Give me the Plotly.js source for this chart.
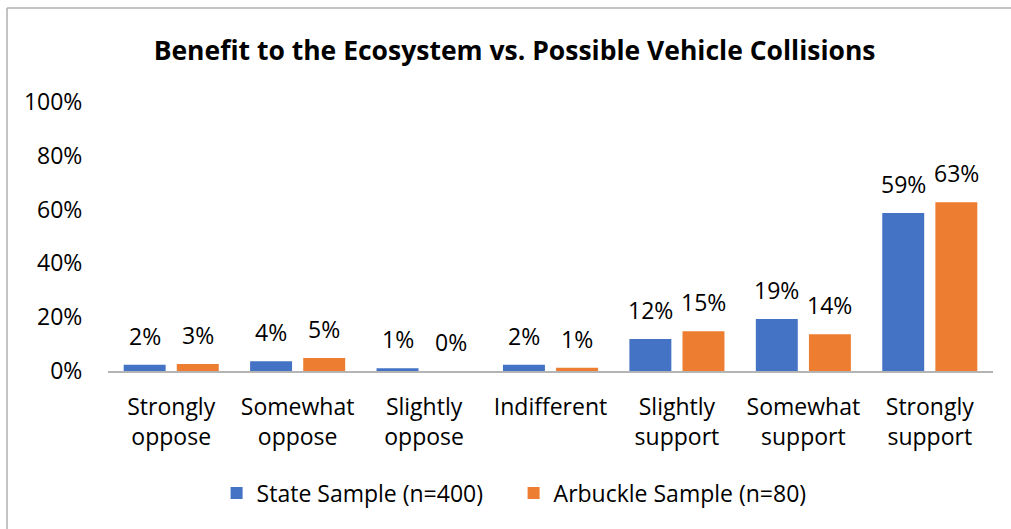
<!DOCTYPE html>
<html>
<head>
<meta charset="utf-8">
<script src="https://cdn.plot.ly/plotly-3.0.1.min.js"></script>
<style>
  html, body { margin: 0; padding: 0; background: #fff; overflow: hidden; }
  #chart { width: 1011px; height: 529px; }
</style>
</head>
<body>
<div id="chart"></div>
<script>
const categories = ["Strongly<br>oppose", "Somewhat<br>oppose", "Slightly<br>oppose", "Indifferent", "Slightly<br>support", "Somewhat<br>support", "Strongly<br>support"];
const stateSample = [0.023, 0.036, 0.010, 0.023, 0.119, 0.193, 0.587];
const arbuckleSample = [0.026, 0.048, 0.0, 0.012, 0.148, 0.137, 0.627];
const seriesNames = ["State Sample (n=400)", "Arbuckle Sample (n=80)"];
const seriesColors = ["#4472C4", "#ED7D31"];
const yTickVals = [0, 0.2, 0.4, 0.6, 0.8, 1.0];

const FONT = "Open Sans, Lato, DejaVu Sans, sans-serif";
const BARGAP = 0.16;

const traces = [stateSample, arbuckleSample].map((vals, k) => ({
  type: "bar",
  x: categories,
  y: vals,
  name: seriesNames[k],
  marker: { color: seriesColors[k] },
  hoverinfo: "skip"
}));

// data labels as annotations placed over each bar
const fmtPct = v => Math.round(v * 100) + "%";
const slotOffset = (1 - BARGAP) / 4;
const annotations = [];
[stateSample, arbuckleSample].forEach((vals, k) => {
  vals.forEach((v, i) => {
    annotations.push({
      xref: "x", yref: "y",
      x: i + (k === 0 ? -slotOffset : slotOffset),
      y: v,
      text: fmtPct(v),
      showarrow: false,
      xanchor: "center", yanchor: "bottom",
      yshift: 11,
      font: { family: FONT, size: 23, color: "#000" }
    });
  });
});

const layout = {
  width: 1011,
  height: 529,
  margin: { l: 108, r: 18, t: 102, b: 158 },
  paper_bgcolor: "#fff",
  plot_bgcolor: "#fff",
  font: { family: FONT, size: 23, color: "#000" },
  title: {
    text: "<b>Benefit to the Ecosystem vs. Possible Vehicle Collisions</b>",
    font: { family: FONT, size: 26.5, color: "#000" },
    xref: "container", x: 0.509, xanchor: "center",
    yref: "container", y: 0.904, yanchor: "middle"
  },
  barmode: "group",
  bargap: BARGAP,
  bargroupgap: 0.21,
  xaxis: {
    showline: true,
    linecolor: "#b4b4b4",
    linewidth: 1.5,
    showgrid: false,
    zeroline: false,
    ticks: "outside",
    ticklen: 15,
    tickcolor: "rgba(0,0,0,0)",
    tickfont: { family: FONT, size: 23, color: "#000" }
  },
  yaxis: {
    range: [0, 1],
    tickvals: yTickVals,
    tickformat: ".0%",
    showgrid: false,
    zeroline: false,
    showline: false,
    ticks: "outside",
    ticklen: 20,
    tickcolor: "rgba(0,0,0,0)",
    tickfont: { family: FONT, size: 23, color: "#000" }
  },
  showlegend: true,
  legend: {
    orientation: "h",
    xref: "container", x: 0.508, xanchor: "center",
    yref: "container", y: 0.068, yanchor: "middle",
    font: { family: FONT, size: 23, color: "#000" },
    entrywidth: 252,
    entrywidthmode: "pixels",
    traceorder: "normal"
  },
  annotations: annotations,
  shapes: [
    { type: "line", xref: "paper", yref: "paper", x0: -0.1141, x1: -0.1141, y0: -1, y1: 1.349, line: { color: "#b0b0b0", width: 1.5 } },
    { type: "line", xref: "paper", yref: "paper", x0: -0.1141, x1: 1.2, y0: 1.349, y1: 1.349, line: { color: "#b0b0b0", width: 1.5 } }
  ]
};

Plotly.newPlot("chart", traces, layout, { displayModeBar: false, staticPlot: true });
</script>
</body>
</html>
